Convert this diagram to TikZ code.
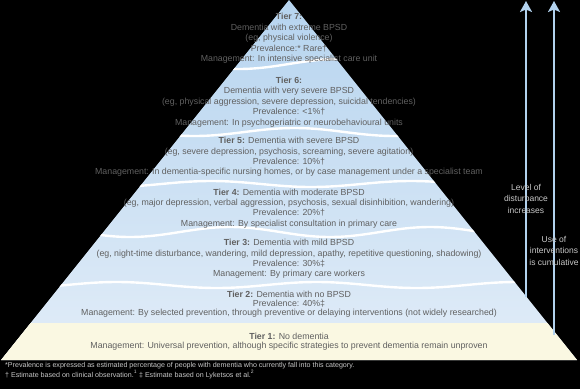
\documentclass[tikz,border=0pt]{standalone}
\usepackage{fontspec}
\setmainfont{Liberation Sans}
\usetikzlibrary{arrows.meta,calc}
\definecolor{bpBlueTop}{RGB}{182,212,239}
\definecolor{bpBlueBot}{RGB}{226,237,248}
\definecolor{bpCream}  {RGB}{250,248,226}
\definecolor{bpText}   {RGB}{ 96, 96, 96}
\definecolor{bpArrow}  {RGB}{178,210,238}
\definecolor{bpNote}   {RGB}{200,200,200}

\begin{document}
\begin{tikzpicture}[x=1pt,y=-1pt,
  every node/.style={inner sep=0pt},
  tier/.style={align=center,text=bpText,font=\fontsize{8.8}{10.4}\selectfont},
  tiertight/.style={tier,font=\fontsize{8.8}{9.2}\selectfont},
  sep/.style={white,line width=2.4pt},
  up/.style={-{Stealth[length=11pt,width=12pt,inset=2.5pt]},bpArrow,line width=2pt},
  side/.style={align=center,text=bpNote,font=\fontsize{8.5}{11.5}\selectfont},
  note/.style={align=left,text=bpNote,font=\fontsize{7.1}{9.6}\selectfont}
]
\fill[black] (0,0) rectangle (580,389);
\useasboundingbox (0,0) rectangle (580,389);

% pyramid outline
\coordinate (apex) at (289,0);
\coordinate (bl) at (1,360);
\coordinate (br) at (577,360);
\coordinate (t1l) at ($(apex)!0.8972!(bl)$);
\coordinate (t1r) at ($(apex)!0.8972!(br)$);

\shade[top color=bpBlueTop,bottom color=bpBlueBot] (apex) -- (br) -- (bl) -- cycle;
\fill[bpCream] (t1l) -- (t1r) -- (br) -- (bl) -- cycle;

% wavy tier borders
\begin{scope}
  \clip (apex) -- (br) -- (bl) -- cycle;
  \foreach \yy/\aa/\ph in {64/5/20, 132/4/100, 184/3/250, 232/5/-144, 285/3/60}
    \draw[sep] plot[domain=0:580,samples=90,smooth] (\x,{\yy+\aa*sin(1.8*\x+\ph)});
\end{scope}

\node[tier] (t7) at (289,38.5) {\textbf{Tier 7:}\\Dementia with extreme BPSD\\(eg, physical violence)\\Prevalence:* Rare†\\Management: In intensive specialist care unit};
\node[tier] (t6) at (289,102) {\textbf{Tier 6:}\\Dementia with very severe BPSD\\(eg, physical aggression, severe depression, suicidal tendencies)\\Prevalence: <1\%†\\Management: In psychogeriatric or neurobehavioural units};
\node[tier] (t5) at (289,157) {\textbf{Tier 5:} Dementia with severe BPSD\\(eg, severe depression, psychosis, screaming, severe agitation)\\Prevalence: 10\%†\\Management: In dementia-specific nursing homes, or by case management under a specialist team};
\node[tier] (t4) at (289,208.5) {\textbf{Tier 4:} Dementia with moderate BPSD\\(eg, major depression, verbal aggression, psychosis, sexual disinhibition, wandering)\\Prevalence: 20\%†\\Management: By specialist consultation in primary care};
\node[tier] (t3) at (289,259) {\textbf{Tier 3:} Dementia with mild BPSD\\(eg, night-time disturbance, wandering, mild depression, apathy, repetitive questioning, shadowing)\\Prevalence: 30\%‡\\Management: By primary care workers};
\node[tiertight] (t2) at (289,304) {\textbf{Tier 2:} Dementia with no BPSD\\Prevalence: 40\%‡\\Management: By selected prevention, through preventive or delaying interventions (not widely researched)};
\node[tiertight] (t1) at (289,341.5) {\textbf{Tier 1:} No dementia\\Management: Universal prevention, although specific strategies to prevent dementia remain unproven};

% side arrows
\coordinate (a1s) at (526,297); \coordinate (a1e) at (526,1);
\coordinate (a2s) at (554,335); \coordinate (a2e) at (554,1);
\draw[up] (a1s) -- (a1e);
\draw[up] (a2s) -- (a2e);
\node[side] (lvl) at (526,198.5) {Level of\\disturbance\\increases};
\node[side] (cum) at (554,250.5) {Use of\\interventions\\is cumulative};

\node[note,anchor=base west] (fn) at (5,377) {*Prevalence is expressed as estimated percentage of people with dementia who currently fall into this category.\\† Estimate based on clinical observation.\textsuperscript{1} ‡ Estimate based on Lyketsos et al.\textsuperscript{2}};
\end{tikzpicture}
\end{document}
